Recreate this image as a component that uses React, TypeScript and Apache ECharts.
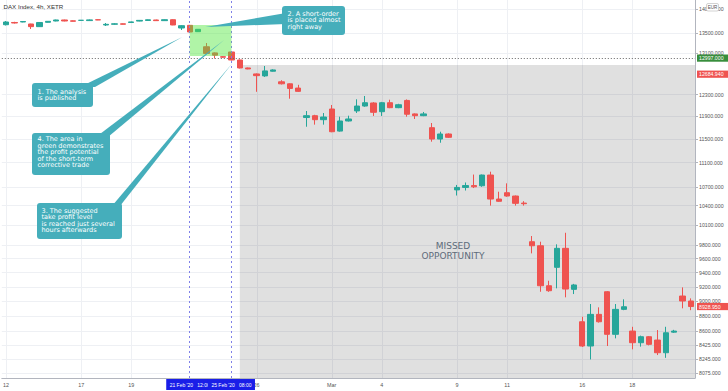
import React, { useEffect, useRef } from 'react';
import * as echarts from 'echarts';

// ---------- data ----------
const tradingDays = [
  'Feb 12', 'Feb 13', 'Feb 14', 'Feb 17', 'Feb 18', 'Feb 19', 'Feb 20', 'Feb 21', 'Feb 24', 'Feb 25',
  'Feb 26', 'Feb 27', 'Feb 28', 'Mar 2', 'Mar 3', 'Mar 4', 'Mar 5', 'Mar 6', 'Mar 9', 'Mar 10',
  'Mar 11', 'Mar 12', 'Mar 13', 'Mar 16', 'Mar 17', 'Mar 18', 'Mar 19', 'Mar 20',
];
const sessionHours = ['08:00', '12:00', '16:00'];
const categories = tradingDays.flatMap((d) => sessionHours.map((h) => `${d} ${h}`)).slice(0, 83);

const opens = [
  13670, 13716, 13726, 13685, 13630, 13720, 13747, 13768, 13750, 13760,
  13755, 13772, 13664, 13680, 13688, 13715, 13745, 13758, 13768, 13754,
  13774, 13602, 13657, 13527, 13222, 13100, 13025, 13118, 12960, 12805,
  12690, 12652, 12742, 12540, 12502, 12422, 11881, 11914, 11842, 12035,
  11640, 11819, 12000, 12089, 12145, 11986, 12150, 12059, 12192, 11946,
  11914, 11700, 11501, 11589, 10650, 10690, 10720, 10717, 10892, 10504,
  10605, 10552, 10440, 9848, 9788, 9214, 9474, 9750, 9164, 8726,
  8412, 8824, 9131, 8562, 8891, 8604, 8454, 8531, 8488, 8327,
  8590, 9072, 9004,
];
const highs = [
  13747, 13730, 13745, 13690, 13722, 13745, 13775, 13775, 13758, 13768,
  13778, 13778, 13705, 13700, 13695, 13735, 13765, 13778, 13775, 13780,
  13782, 13660, 13665, 13580, 13297, 13110, 13035, 13130, 12970, 12812,
  12700, 12843, 12780, 12570, 12510, 12483, 11998, 11930, 11962, 12108,
  11896, 11914, 12213, 12274, 12160, 12165, 12205, 12130, 12210, 11955,
  11981, 11783, 11629, 11600, 10730, 10770, 10900, 10900, 10947, 10621,
  10756, 10560, 10470, 9933, 9848, 9284, 9809, 9982, 9240, 8792,
  8963, 8918, 9140, 8963, 9027, 8660, 8545, 8540, 8617, 8660,
  8620, 9191, 9040,
];
const lows = [
  13654, 13695, 13720, 13582, 13625, 13715, 13740, 13740, 13738, 13752,
  13750, 13765, 13643, 13670, 13675, 13710, 13740, 13752, 13748, 13750,
  13660, 13561, 13515, 13520, 13080, 12990, 13005, 12950, 12795, 12780,
  12352, 12633, 12735, 12490, 12224, 12350, 11717, 11754, 11754, 11620,
  11630, 11810, 11963, 12075, 11909, 11909, 12050, 12050, 11896, 11855,
  11905, 11455, 11437, 11520, 10560, 10640, 10680, 10700, 10400, 10460,
  10540, 10400, 10400, 9676, 9131, 9130, 9178, 9054, 9099, 8400,
  8243, 8715, 8412, 8510, 8880, 8370, 8404, 8420, 8298, 8263,
  8580, 8905, 8880,
];
const closes = [
  13726, 13705, 13736, 13630, 13716, 13740, 13768, 13747, 13742, 13762,
  13770, 13770, 13678, 13688, 13680, 13728, 13760, 13772, 13754, 13774,
  13664, 13650, 13520, 13575, 13090, 13055, 13015, 12960, 12805, 12786,
  12657, 12748, 12767, 12502, 12415, 12360, 11914, 11842, 11890, 11629,
  11819, 11855, 12089, 12150, 11975, 12150, 12059, 12113, 11940, 11914,
  11946, 11501, 11589, 11531, 10690, 10720, 10700, 10892, 10504, 10468,
  10552, 10436, 10430, 9788, 9214, 9145, 9750, 9168, 9225, 8412,
  8824, 8726, 8562, 8891, 8926, 8454, 8531, 8433, 8327, 8582,
  8604, 9004, 8929,
];

const yTickValues = [
  14000, 13500, 13100, 12300, 11900, 11500, 11100, 10700, 10400, 10100,
  9800, 9600, 9400, 9200, 9000, 8800, 8600, 8425, 8245, 8075,
];
const xTickLabels: [string, string][] = [
  ['Feb 12', '12'], ['Feb 17', '17'], ['Feb 19', '19'], ['Feb 26', '26'], ['Mar 2', 'Mar'],
  ['Mar 4', '4'], ['Mar 9', '9'], ['Mar 11', '11'], ['Mar 16', '16'], ['Mar 18', '18'],
];
const yMin = 8015;
const yMax = 14190;

const analysisLevel = 12997;
const priceTagValues = [12997, 12684.94, 8928.95];
const signalStart = 'Feb 21 12:00';
const signalEnd = 'Feb 25 08:00';
const signalLabels = ["21 Feb '20   12:00", "25 Feb '20   08:00"];
const tradeEntry = 13664;
const tradeTarget = 13039;
const missedStart = 'Feb 25 12:00';
const missedTop = 12863;

const callout1 = ['1. The analysis', 'is published'];
const callout2 = ['2. A short-order', 'is placed almost', 'right away'];
const callout3 = ['3. The suggested', 'take profit level', 'is reached just several', 'hours afterwards'];
const callout4 = ['4. The area in', 'green demonstrates', 'the profit potential', 'of the short-term', 'corrective trade'];

const UP = '#26a69a';
const DOWN = '#ef5350';
const TEAL = '#45aebb';
const SANS = '"Liberation Sans", Arial, sans-serif';
const CALLOUT_FONT = '"DejaVu Sans", Verdana, sans-serif';

export default function App() {
  const ref = useRef<HTMLDivElement>(null);

  useEffect(() => {
    const chart = echarts.init(ref.current!, undefined, { renderer: 'svg' });
    const labelMap: Record<string, string> = {};
    xTickLabels.forEach(([d, l]) => (labelMap[`${d} 08:00`] = l));

    chart.setOption({
      animation: false,
      backgroundColor: '#ffffff',
      textStyle: { fontFamily: SANS },
      grid: { left: 0, right: 33, top: 0, bottom: 13, containLabel: false },
      xAxis: {
        type: 'category',
        data: categories,
        boundaryGap: true,
        axisLine: { show: true, lineStyle: { color: '#b2b5be', width: 1 } },
        axisTick: { show: false },
        splitLine: { show: false },
        axisLabel: {
          interval: (_i: number, v: string) => labelMap[v] !== undefined,
          formatter: (v: string) => labelMap[v] ?? '',
          fontSize: 5.4,
          color: '#555',
          margin: 4.5,
          hideOverlap: false,
        },
      },
      yAxis: {
        type: 'log',
        logBase: 10,
        position: 'right',
        min: yMin,
        max: yMax,
        axisLine: { show: true, lineStyle: { color: '#b2b5be', width: 1 } },
        axisTick: { show: true, length: 3, customValues: yTickValues, lineStyle: { color: '#b2b5be' } },
        axisLabel: {
          customValues: yTickValues,
          formatter: (v: number) => Number(v).toFixed(3),
          fontSize: 5.2,
          color: '#555',
          margin: 4,
          showMinLabel: true,
          showMaxLabel: true,
        },
        splitLine: { show: true, lineStyle: { color: '#eef0f4', width: 1 } },
      },
      series: [
        {
          type: 'candlestick',
          z: 2,
          barWidth: '70%',
          data: opens.map((o, i) => [o, closes[i], lows[i], highs[i]]),
          itemStyle: { color: UP, color0: DOWN, borderColor: UP, borderColor0: DOWN, borderWidth: 1 },
          markLine: {
            silent: true,
            symbol: 'none',
            label: { show: false },
            data: [
              { xAxis: signalStart, lineStyle: { color: '#7f80e8', type: [2, 3], width: 1 } },
              { xAxis: signalEnd, lineStyle: { color: '#7f80e8', type: [2, 3], width: 1 } },
              { yAxis: analysisLevel, lineStyle: { color: '#666', type: [1, 2], width: 1 } },
            ],
          },
        },
      ],
    });

    const X = (c: string) => chart.convertToPixel({ xAxisIndex: 0 }, categories.indexOf(c)) as number;
    const Y = (v: number) => chart.convertToPixel({ yAxisIndex: 0 }, v) as number;
    const plotRight = 695;
    const plotBottom = 378;

    const g: any[] = [];
    // vertical grid lines at the labelled days
    xTickLabels.forEach(([d]) => {
      const px = Math.round(X(`${d} 08:00`)) + 0.5;
      g.push({ type: 'line', z: 0, silent: true, shape: { x1: px, y1: 0, x2: px, y2: plotBottom }, style: { stroke: '#eef0f4', lineWidth: 1 } });
    });
    // missed opportunity zone
    const mx = X(missedStart);
    const my = Y(missedTop);
    g.push({ type: 'rect', z: 1, silent: true, shape: { x: mx, y: my, width: plotRight - mx, height: plotBottom - my }, style: { fill: 'rgba(0,0,0,0.12)' } });
    g.push({
      type: 'text', z: 5, silent: true, x: 453, y: 251,
      style: { text: 'MISSED\nOPPORTUNITY', fill: '#5d6b7a', font: `9px ${CALLOUT_FONT}`, align: 'center', verticalAlign: 'middle', lineHeight: 9.5 },
    });
    // green profit zone
    const gx1 = X(signalStart), gx2 = X(signalEnd), gy1 = Y(tradeEntry), gy2 = Y(tradeTarget);
    g.push({ type: 'rect', z: 10, silent: true, shape: { x: gx1, y: gy1, width: gx2 - gx1, height: gy2 - gy1 }, style: { fill: 'rgba(80,230,60,0.45)' } });

    // callouts
    const tail = (pts: number[][]) => ({ type: 'polygon', z: 20, silent: true, shape: { points: pts }, style: { fill: TEAL } });
    const box = (x: number, y: number, w: number, h: number) => ({ type: 'rect', z: 20, silent: true, shape: { x, y, width: w, height: h, r: 3 }, style: { fill: TEAL } });
    const txt = (x: number, y: number, lines: string[]) => ({
      type: 'text', z: 21, silent: true, x, y,
      style: { text: lines.join('\n'), fill: '#ffffff', font: `6.5px ${CALLOUT_FONT}`, lineHeight: 6.6, verticalAlign: 'top' },
    });
    g.push(tail([[X('Feb 21 08:00') + 1, 37], [80, 87], [95, 87]]));
    g.push(box(32, 83, 61, 24));
    g.push(txt(37.5, 88.3, callout1));
    g.push(tail([[X('Feb 24 08:00') - 1, 27], [286, 13], [286, 24]]));
    g.push(box(282, 6, 63, 29));
    g.push(txt(287.5, 10.5, callout2));
    g.push(tail([[X('Feb 24 16:00') + 1, 40], [96, 137], [108, 137]]));
    g.push(box(32, 133, 78, 42));
    g.push(txt(37.5, 135.8, callout4));
    g.push(tail([[X(signalEnd) + 1, 63], [112, 206], [120, 206]]));
    g.push(box(37, 203, 85, 36));
    g.push(txt(41.5, 207.2, callout3));

    // price tags on the right axis
    const tagColors = ['#388e3c', DOWN, DOWN];
    priceTagValues.forEach((v, i) => {
      const py = Y(v);
      g.push({ type: 'rect', z: 20, silent: true, shape: { x: 697, y: py - 3.6, width: 31, height: 7.2 }, style: { fill: tagColors[i] } });
      g.push({ type: 'text', z: 21, silent: true, x: 699, y: py, style: { text: v.toFixed(3), fill: '#fff', font: `5.2px ${SANS}`, verticalAlign: 'middle' } });
    });
    // date tags on the bottom axis
    [signalStart, signalEnd].forEach((c, i) => {
      const px = X(c);
      g.push({ type: 'rect', z: 20 + i, silent: true, shape: { x: px - 23.5, y: 379, width: 47, height: 11 }, style: { fill: '#1a1ee8' } });
      g.push({ type: 'text', z: 20 + i, silent: true, x: px, y: 384.8, style: { text: signalLabels[i], fill: '#fff', font: `5px ${SANS}`, align: 'center', verticalAlign: 'middle' } });
    });
    // title and currency badge
    g.push({ type: 'text', z: 20, silent: true, x: 3.5, y: 6.5, style: { text: 'DAX Index, 4h, XETR', fill: '#333', font: `6.2px ${SANS}`, verticalAlign: 'middle' } });
    g.push({ type: 'rect', z: 20, silent: true, shape: { x: 706.5, y: 3.5, width: 12, height: 7.5, r: 1.5 }, style: { fill: '#fff', stroke: '#c8c8c8', lineWidth: 0.8 } });
    g.push({ type: 'text', z: 21, silent: true, x: 712.5, y: 7.3, style: { text: 'EUR', fill: '#555', font: `4.6px ${SANS}`, align: 'center', verticalAlign: 'middle' } });

    chart.setOption({ graphic: { elements: g } });

    return () => chart.dispose();
  }, []);

  return <div ref={ref} style={{ position: 'fixed', left: 0, top: 0, width: 728, height: 391 }} />;
}
